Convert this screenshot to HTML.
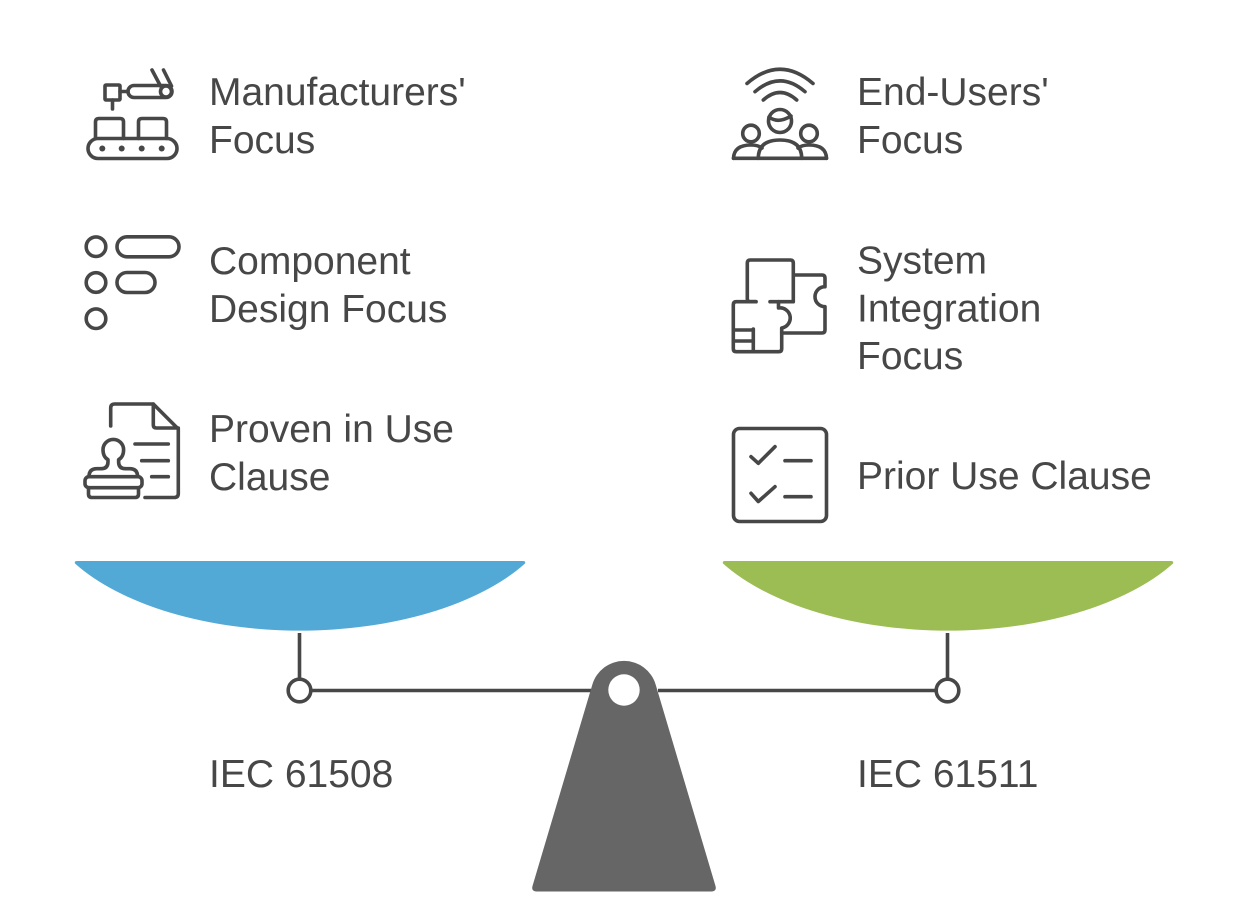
<!DOCTYPE html>
<html>
<head>
<meta charset="utf-8">
<style>
html,body{margin:0;padding:0;background:#fff;}
svg{display:block;}
text{font-family:"Liberation Sans",Arial,sans-serif;font-size:39px;fill:#474747;}
</style>
</head>
<body>
<svg width="1248" height="924" viewBox="0 0 1248 924" xmlns="http://www.w3.org/2000/svg">
<rect width="1248" height="924" fill="#fff"/>

<!-- Icons -->
<g fill="none" stroke="#474747" stroke-width="3.6" stroke-linecap="round" stroke-linejoin="round">
  <!-- Manufacturing icon -->
  <rect x="88" y="138.5" width="89" height="20" rx="10"/>
  <path d="M95.5 138.5 V122 q0 -3.5 3.5 -3.5 H120 q3.5 0 3.5 3.5 V138.5"/>
  <path d="M138.5 138.5 V122 q0 -3.5 3.5 -3.5 H163 q3.5 0 3.5 3.5 V138.5"/>
  <rect x="105" y="85" width="15" height="15" rx="1"/>
  <line x1="112.5" y1="100" x2="112.5" y2="109"/>
  <line x1="120" y1="91.5" x2="128" y2="91.5"/>
  <path d="M134 85.5 H166 a6 6 0 0 1 0 12 H134 a6 6 0 0 1 0 -12 Z"/>
  <circle cx="166" cy="91.5" r="5.5"/>
  <line x1="152" y1="70" x2="160.5" y2="86"/>
  <line x1="163.5" y1="70" x2="171.5" y2="86"/>

  <!-- Component design icon -->
  <circle cx="96" cy="246.7" r="9.8"/>
  <circle cx="96" cy="282.5" r="9.8"/>
  <circle cx="96" cy="318.7" r="9.8"/>
  <rect x="117" y="236.8" width="62" height="20" rx="10"/>
  <rect x="117" y="272.5" width="38" height="20" rx="10"/>

  <!-- Proven in use icon -->
  <path d="M110.7 426 V408 q0 -4 4 -4 H153.3 L178.3 429 V493.5 q0 4 -4 4 H145"/>
  <path d="M153.3 404 V425 q0 3 3 3 H178.3"/>
  <line x1="135" y1="444" x2="168.3" y2="444"/>
  <line x1="141.7" y1="460.7" x2="168.3" y2="460.7"/>
  <line x1="151.7" y1="476.7" x2="168.3" y2="476.7"/>
  <path d="M89 476.7 q0 -8 8 -8 h4 q7 0 7 -7 v-2 q-5 -3 -5 -10 a10 10 0 0 1 20.6 0 q0 7 -5 10 v2 q0 7 7 7 h4 q8 0 8 8"/>
  <rect x="85" y="476.7" width="57" height="11" rx="4"/>
  <path d="M88.5 487.7 V494 q0 3.5 3.5 3.5 H135 q3.5 0 3.5 -3.5 V487.7"/>

  <!-- End users icon -->
  <path d="M747 83.5 Q780 55 813 83.5"/>
  <path d="M755 91.7 Q780 70 805 91.7"/>
  <path d="M763.3 100 Q780 85 796.7 100"/>
  <circle cx="780" cy="121" r="11.5"/>
  <path d="M769 117 Q778 124 791 116"/>
  <path d="M758.3 158.3 Q758.3 140 780 140 Q801.7 140 801.7 158.3"/>
  <circle cx="751" cy="133.5" r="8.3"/>
  <circle cx="809" cy="133.5" r="8.3"/>
  <path d="M733.5 158.3 Q734 145 751 145 Q758 145 762 148"/>
  <path d="M826.5 158.3 Q826 145 809 145 Q802 145 798 148"/>
  <line x1="733.5" y1="158.3" x2="826.5" y2="158.3"/>

  <!-- System integration icon -->
  <path d="M756 301.7 H750 q-2.7 0 -2.7 -2.7 V263 q0 -3 3 -3 H790.3 q3 0 3 3 V301.7 H770"/>
  <path d="M793.3 275 H822 q3 0 3 3 V286.7 a10 10 0 0 0 0 20 V330 q0 3 -3 3 H781.7"/>
  <path d="M778.5 301.7 V308 a10 10 0 0 1 3.2 20 V348.7 q0 3 -3 3 H736.3 q-3 0 -3 -3 V304.7 q0 -3 3 -3 H756"/>
  <line x1="753.3" y1="329" x2="753.3" y2="351.7"/>
  <line x1="733.3" y1="330" x2="753.3" y2="330"/>
  <line x1="733.3" y1="341" x2="753.3" y2="341"/>

  <!-- Checklist icon -->
  <rect x="733.5" y="428.5" width="93" height="93" rx="6"/>
  <path d="M751 456.7 L758.3 463.3 L775 446.7"/>
  <line x1="785" y1="460.7" x2="811" y2="460.7"/>
  <path d="M751 493.3 L758.3 501.5 L775 486.7"/>
  <line x1="785" y1="496.7" x2="811" y2="496.7"/>
</g>
<!-- conveyor dots -->
<g fill="#474747">
  <circle cx="102.3" cy="148.5" r="3"/>
  <circle cx="121.7" cy="148.5" r="3"/>
  <circle cx="141.7" cy="148.5" r="3"/>
  <circle cx="161.7" cy="148.5" r="3"/>
</g>

<!-- Labels -->
<text x="209" y="105">Manufacturers'</text>
<text x="209" y="153">Focus</text>
<text x="209" y="274">Component</text>
<text x="209" y="322">Design Focus</text>
<text x="209" y="442">Proven in Use</text>
<text x="209" y="490">Clause</text>

<text x="857" y="105">End-Users'</text>
<text x="857" y="153">Focus</text>
<text x="857" y="273.5">System</text>
<text x="857" y="321.5">Integration</text>
<text x="857" y="369">Focus</text>
<text x="857" y="489">Prior Use Clause</text>

<!-- Pans -->
<path d="M77 561 H523 q3 0 2 2.5 A260 134.5 0 0 1 75 563.5 q-1 -2.5 2 -2.5 Z" fill="#53A9D6"/>
<path d="M725 561 H1171 q3 0 2 2.5 A260 134.5 0 0 1 723 563.5 q-1 -2.5 2 -2.5 Z" fill="#9BBD53"/>

<!-- Beam and hangers -->
<g stroke="#474747" stroke-width="3.6" fill="none">
  <line x1="299.5" y1="633" x2="299.5" y2="679"/>
  <line x1="947.5" y1="633" x2="947.5" y2="679"/>
  <line x1="311" y1="690.5" x2="591" y2="690.5"/>
  <line x1="658" y1="690.5" x2="936" y2="690.5"/>
  <circle cx="299.5" cy="690.5" r="11.3" fill="#fff"/>
  <circle cx="947.5" cy="690.5" r="11.3" fill="#fff"/>
</g>

<!-- Fulcrum -->
<path d="M592.3 684.7 A33 33 0 0 1 655.7 684.7 L715.5 886 Q717 891.5 711 891.5 H537 Q531 891.5 532.5 886 Z" fill="#666666"/>
<circle cx="624" cy="690" r="15.7" fill="#fff"/>

<!-- Bottom labels -->
<text x="209" y="787">IEC 61508</text>
<text x="857" y="787">IEC 61511</text>
</svg>
</body>
</html>
